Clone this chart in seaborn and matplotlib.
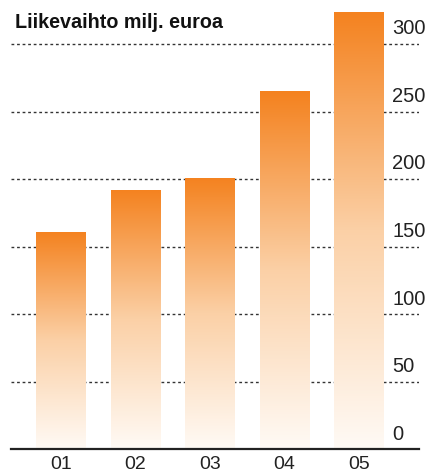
import numpy as np
import pandas as pd
import seaborn as sns
import matplotlib.pyplot as plt
import matplotlib.transforms as mtransforms
from matplotlib.colors import LinearSegmentedColormap

years = ["01", "02", "03", "04", "05"]
revenue = [161, 192, 201, 265, 324]
yticks = [0, 50, 100, 150, 200, 250, 300]
title = "Liikevaihto milj. euroa"

sns.set_theme(style="white")
plt.rcParams["font.family"] = ["Liberation Sans", "DejaVu Sans"]

W, H = 430, 473
fig = plt.figure(figsize=(W / 100, H / 100), dpi=100)
ax = fig.add_axes([11 / W, (H - 449.3) / H, 408 / W, (449.3 - 5) / H])

df = pd.DataFrame({"year": years, "value": revenue})
sns.barplot(data=df, x="year", y="value", width=0.671, color="#f4821f",
            ax=ax, zorder=3)

# gradient fill per bar: orange at top fading to white at bottom
cmap = LinearSegmentedColormap.from_list("og", ["#fffaf5", "#fbd0a6", "#f4821f"])
grad = np.linspace(0, 1, 256).reshape(-1, 1)
for p in ax.patches:
    x0, y0 = p.get_x(), p.get_y()
    w, h = p.get_width(), p.get_height()
    im = ax.imshow(grad, cmap=cmap, aspect="auto", origin="lower",
                   extent=[x0, x0 + w, y0, y0 + h], zorder=3)
    im.set_clip_path(p)
    p.set_facecolor("none")
    p.set_edgecolor("none")
ax.set_xlim(-0.671, 4.805)
ax.set_ylim(0, 329)

# dotted gridlines
for v in yticks[1:]:
    ax.axhline(v, color="#333333", lw=1, ls=(0, (2, 2)), zorder=1)

for s in ["left", "right", "top"]:
    ax.spines[s].set_visible(False)
ax.spines["bottom"].set_color("#222222")
ax.spines["bottom"].set_linewidth(1.6)
ax.spines["bottom"].set_zorder(5)

ax.set_yticks([])
ax.set_xlabel("")
ax.set_ylabel("")
ax.tick_params(axis="x", length=0, pad=5, labelsize=14, labelcolor="#222222")

trans = mtransforms.offset_copy(ax.get_yaxis_transform(), fig=fig, y=7, units="points")
for v in yticks:
    ax.text((392 - 11) / 408, v, str(v), transform=trans, ha="left",
            va="baseline", fontsize=14.5, color="#222222")

fig.text(15 / W, 1 - 23 / H, title, ha="left", va="center",
         fontsize=14.2, fontweight="bold", color="#111111")

fig.savefig("out.png", dpi=100)
